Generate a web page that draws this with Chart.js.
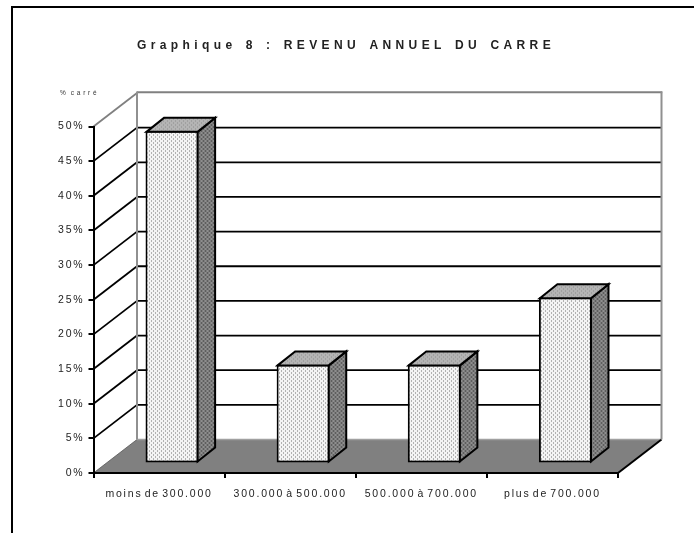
<!DOCTYPE html>
<html>
<head>
<meta charset="utf-8">
<style>
  html, body { margin: 0; padding: 0; background: #fff; }
  #wrap { position: relative; width: 694px; height: 533px; }
</style>
</head>
<body>
<div id="wrap"><canvas id="myChart"></canvas></div>
<script src="https://cdn.jsdelivr.net/npm/chart.js@4"></script>
<script>
'use strict';

const titleText = 'Graphique 8 : REVENU ANNUEL DU CARRE';
const unitLabel = '% carré';
const categories = [ 'moins de 300.000', '300.000 à 500.000', '500.000 à 700.000', 'plus de 700.000' ];
const shares = [ 48, 14.3, 14.3, 24 ];

// depth of the fake 3D box and of the bars inside it
const wallDx = 43.5;
const wallDy = -33.5;
const barDx = 13;
const barDy = -9.5;
const sideDx = 17.5;
const sideDy = -14;

function dots( bg, dot, light ) {
  const c = document.createElement( 'canvas' );
  c.width = 4;
  c.height = 4;
  const g = c.getContext( '2d' );
  g.fillStyle = bg;
  g.fillRect( 0, 0, 4, 4 );
  g.fillStyle = dot;
  g.fillRect( 0, 0, 1, 1 );
  g.fillRect( 2, 2, 1, 1 );
  if ( light ) {
    g.fillStyle = light;
    g.fillRect( 2, 0, 1, 1 );
    g.fillRect( 0, 2, 1, 1 );
  }
  return g.createPattern( c, 'repeat' );
}

const frontFill = dots( '#f4f4f4', '#707070' );
const sideFill = dots( '#7c7c7c', '#404040', '#a0a0a0' );
const topFill = dots( '#b4b4b4', '#8c8c8c' );

function line( ctx, x1, y1, x2, y2, color, width ) {
  ctx.strokeStyle = color;
  ctx.lineWidth = width;
  ctx.beginPath();
  ctx.moveTo( x1, y1 );
  ctx.lineTo( x2, y2 );
  ctx.stroke();
}

function poly( ctx, pts, fill ) {
  ctx.beginPath();
  pts.forEach( function ( p, i ) {
    if ( i === 0 ) ctx.moveTo( p[0], p[1] );
    else ctx.lineTo( p[0], p[1] );
  } );
  ctx.closePath();
  ctx.fillStyle = fill;
  ctx.fill();
  ctx.strokeStyle = '#000';
  ctx.lineWidth = 2;
  ctx.lineJoin = 'miter';
  ctx.stroke();
}

const box3d = {
  id: 'box3d',
  beforeDraw( chart ) {
    const ctx = chart.ctx;
    const a = chart.chartArea;
    const yScale = chart.scales.y;

    // title gets wide letter spacing and is centred on the page, not on the plot
    if ( chart.titleBlock && !chart.titleBlock.spaced ) {
      const drawTitle = chart.titleBlock.draw;
      chart.titleBlock.draw = function () {
        ctx.save();
        ctx.letterSpacing = '4.4px';
        ctx.wordSpacing = '1.5px';
        ctx.translate( 37, 0 );
        drawTitle.call( this );
        ctx.restore();
      };
      chart.titleBlock.spaced = true;
    }

    ctx.save();
    ctx.fillStyle = '#fff';
    ctx.fillRect( 0, 0, chart.width, chart.height );

    // page frame
    line( ctx, 12, 6, 12, chart.height, '#000', 2 );
    line( ctx, 11, 7, chart.width, 7, '#000', 2 );

    const left = a.left;
    const right = a.right;
    const base = a.bottom;
    const backL = left + wallDx;
    const backR = right + wallDx;

    // floor
    ctx.beginPath();
    ctx.moveTo( left, base );
    ctx.lineTo( right, base );
    ctx.lineTo( backR, base + wallDy );
    ctx.lineTo( backL, base + wallDy );
    ctx.closePath();
    ctx.fillStyle = '#808080';
    ctx.fill();
    line( ctx, backL, base + wallDy, backR, base + wallDy, '#a0a0a0', 1.5 );
    line( ctx, right, base, backR, base + wallDy, '#000', 2 );

    // grid lines on both walls
    yScale.ticks.forEach( function ( t ) {
      const py = yScale.getPixelForValue( t.value );
      const top = t.value === yScale.max;
      if ( t.value > 0 && !top ) {
        line( ctx, backL, py + wallDy, backR, py + wallDy, '#000', 1.8 );
      }
      if ( t.value > 0 ) {
        line( ctx, left, py, backL, py + wallDy, top ? '#808080' : '#000', 1.8 );
      }
    } );
    line( ctx, left, base, backL, base + wallDy, '#555', 0.8 );

    // grey outline of the back wall
    const topY = a.top + wallDy;
    line( ctx, backL, topY - 0.75, backR + 0.75, topY - 0.75, '#808080', 1.8 );
    line( ctx, backL, topY - 1.5, backL, base + wallDy, '#909090', 2 );
    line( ctx, backR, topY - 1.5, backR, base + wallDy, '#909090', 2 );

    // small unit label above the axis
    ctx.font = '6.5px "Liberation Sans"';
    ctx.fillStyle = '#333';
    ctx.textAlign = 'left';
    ctx.textBaseline = 'middle';
    ctx.letterSpacing = '2.8px';
    ctx.wordSpacing = '-2.5px';
    ctx.fillText( unitLabel, 60, 93.5 );
    ctx.restore();

    ctx.letterSpacing = '1.8px';
    ctx.wordSpacing = '-2.5px';
  },
  beforeDatasetDraw( chart ) {
    chart.ctx.save();
    chart.ctx.translate( barDx, barDy );
  },
  afterDatasetDraw( chart, args ) {
    const ctx = chart.ctx;
    args.meta.data.forEach( function ( bar ) {
      const r = bar.getProps( [ 'x', 'y', 'base', 'width' ] );
      const x0 = r.x - r.width / 2 + 1;
      const x1 = r.x + r.width / 2 - 1;
      const yTop = r.y + 1;
      const yBase = r.base - 1;
      poly( ctx, [ [x1, yTop], [x1 + sideDx, yTop + sideDy], [x1 + sideDx, yBase + sideDy], [x1, yBase] ], sideFill );
      poly( ctx, [ [x0, yTop], [x0 + sideDx, yTop + sideDy], [x1 + sideDx, yTop + sideDy], [x1, yTop] ], topFill );
    } );
    ctx.restore();
  }
};

const ctx = document.getElementById( 'myChart' ).getContext( '2d' );
new Chart( ctx, {
  type: 'bar',
  data: {
    labels: categories,
    datasets: [{
      data: shares,
      backgroundColor: frontFill,
      borderColor: '#000',
      borderWidth: 2,
      borderSkipped: false,
      barPercentage: 0.405,
      categoryPercentage: 1,
      clip: false
    }]
  },
  plugins: [ box3d ],
  options: {
    responsive: true,
    maintainAspectRatio: false,
    animation: false,
    layout: { padding: { left: 0, right: 76, top: 0, bottom: 0 } },
    plugins: {
      legend: { display: false },
      tooltip: { enabled: false },
      title: {
        display: true,
        text: titleText,
        color: '#222',
        font: { family: '"Liberation Sans"', size: 12, weight: 'bold', lineHeight: 1.2 },
        padding: { top: 38, bottom: 74.1 }
      }
    },
    scales: {
      x: {
        afterFit( scale ) { scale.height = 60; },
        grid: { drawOnChartArea: false, drawTicks: true, tickLength: 5, color: '#000', lineWidth: 2 },
        border: { display: true, color: '#000', width: 2 },
        ticks: {
          color: '#222',
          padding: 10,
          autoSkip: false,
          maxRotation: 0,
          font: { family: '"Liberation Sans"', size: 10.5 }
        }
      },
      y: {
        min: 0,
        max: 50,
        afterFit( scale ) { scale.width = 93.5; },
        grid: { drawOnChartArea: false, drawTicks: true, tickLength: 5, color: '#000', lineWidth: 2 },
        border: { display: true, color: '#000', width: 2 },
        ticks: {
          stepSize: 5,
          color: '#222',
          padding: 4,
          font: { family: '"Liberation Sans"', size: 10.5 },
          callback: function ( v ) { return v + '%'; }
        }
      }
    }
  }
} );
</script>
</body>
</html>
